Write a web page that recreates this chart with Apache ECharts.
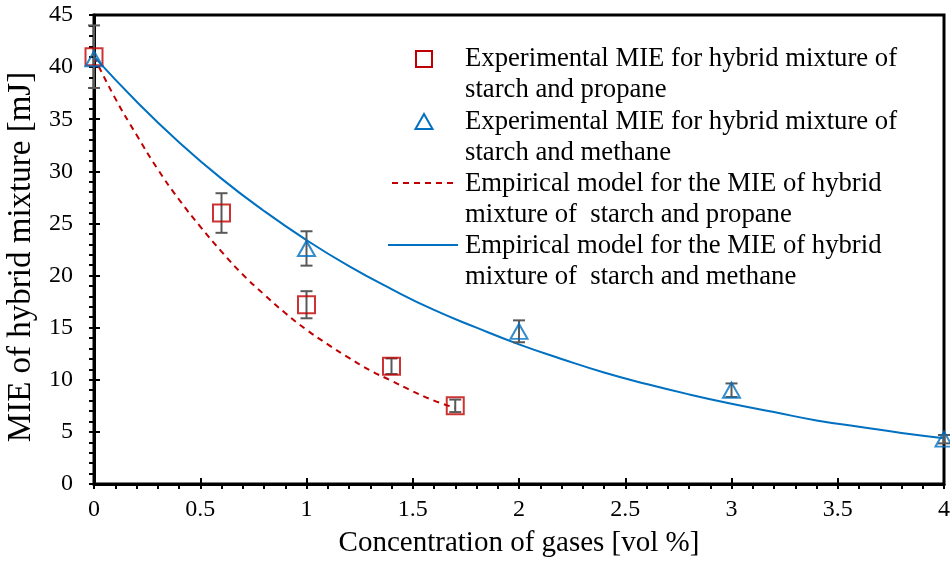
<!DOCTYPE html>
<html>
<head>
<meta charset="utf-8">
<script src="https://cdn.jsdelivr.net/npm/echarts@6/dist/echarts.min.js"></script>
<style>
  html, body { margin: 0; padding: 0; background: #fff; }
  #chart { width: 950px; height: 564px; }
</style>
</head>
<body>
<div id="chart"></div>
<script>
// experimental points
var propaneX = [0, 0.6, 1, 1.4, 1.7];
var propaneY = [41, 26, 17.2, 11.3, 7.5];
var propaneErr = [3, 1.9, 1.3, 0.75, 0.6];

var methaneX = [0, 1, 2, 3, 4];
var methaneY = [40.8, 22.6, 14.65, 9.0, 4.3];
var methaneErr = [0, 1.65, 1.05, 0.65, 0.4];

// empirical model curves
var propaneModelX = [0, 0.1, 0.2, 0.3, 0.4, 0.5, 0.6, 0.7, 0.8, 0.9, 1.0, 1.1, 1.2, 1.3, 1.4, 1.5, 1.6, 1.7];
var propaneModelY = [41.0, 37.0, 33.5, 30.2, 27.3, 24.7, 22.3, 20.1, 18.2, 16.4, 14.8, 13.4, 12.1, 10.9, 9.9, 8.9, 8.0, 7.3];

var methaneModelX = [0, 0.2, 0.4, 0.6, 0.8, 1.0, 1.2, 1.4, 1.6, 1.8, 2.0, 2.2, 2.4, 2.6, 2.8, 3.0, 3.2, 3.4, 3.6, 3.8, 4.0];
var methaneModelY = [41.0, 36.7, 32.8, 29.3, 26.2, 23.4, 20.9, 18.7, 16.7, 15.0, 13.4, 12.0, 10.7, 9.6, 8.6, 7.7, 6.9, 6.1, 5.5, 4.9, 4.4];

var legendLines = [
  ['Experimental MIE for hybrid mixture of', 'starch and propane'],
  ['Experimental MIE for hybrid mixture of', 'starch and methane'],
  ['Empirical model for the MIE of hybrid', 'mixture of  starch and propane'],
  ['Empirical model for the MIE of hybrid', 'mixture of  starch and methane']
];

var red = '#C00000';
var blue = '#0070C0';
var font = '"Liberation Serif", "Times New Roman", serif';

function pairs(xs, ys) {
  var out = [];
  for (var i = 0; i < xs.length; i++) out.push([xs[i], ys[i]]);
  return out;
}
function errData(xs, ys, es) {
  var out = [];
  for (var i = 0; i < xs.length; i++) {
    if (es[i] > 0) out.push([xs[i], ys[i], ys[i] - es[i], ys[i] + es[i]]);
  }
  return out;
}
function renderErr(params, api) {
  var x = api.value(0);
  var lo = api.coord([x, api.value(2)]);
  var hi = api.coord([x, api.value(3)]);
  var w = 6;
  var st = { stroke: '#595959', lineWidth: 2 };
  return {
    type: 'group',
    children: [
      { type: 'line', shape: { x1: lo[0], y1: lo[1], x2: hi[0], y2: hi[1] }, style: st },
      { type: 'line', shape: { x1: lo[0] - w, y1: lo[1], x2: lo[0] + w, y2: lo[1] }, style: st },
      { type: 'line', shape: { x1: hi[0] - w, y1: hi[1], x2: hi[0] + w, y2: hi[1] }, style: st }
    ]
  };
}

// legend drawn by hand so the marker sits on the first text line
var legendGraphic = [];
var legTop = [59, 122, 184, 246];
for (var i = 0; i < 4; i++) {
  var y = legTop[i];
  legendGraphic.push({
    type: 'text', left: 465, top: y - 15.5,
    style: { text: legendLines[i][0] + '\n' + legendLines[i][1], font: '26.7px ' + font, fill: '#000', lineHeight: 31 }
  });
}
legendGraphic.push({ type: 'rect', shape: { x: 416, y: 51, width: 16, height: 16 }, style: { fill: 'none', stroke: red, lineWidth: 2 } });
legendGraphic.push({ type: 'polygon', shape: { points: [[424, 114], [415.5, 129], [432.5, 129]] }, style: { fill: 'none', stroke: blue, lineWidth: 2 } });
legendGraphic.push({ type: 'line', shape: { x1: 392, y1: 183, x2: 454, y2: 183 }, style: { stroke: red, lineWidth: 2, lineDash: [6, 5] } });
legendGraphic.push({ type: 'line', shape: { x1: 388, y1: 245, x2: 458, y2: 245 }, style: { stroke: blue, lineWidth: 2 } });

var myChart = echarts.init(document.getElementById('chart'));
var option = {
  animation: false,
  backgroundColor: '#fff',
  grid: {
    left: 94, right: 6, top: 15, bottom: 80, outerBoundsMode: 'none', containLabel: false,
    show: true, borderColor: '#000', borderWidth: 3
  },
  xAxis: [
    {
      type: 'value', min: 0, max: 4, interval: 0.5, position: 'bottom',
      name: 'Concentration of gases [vol %]', nameLocation: 'middle', nameGap: 45,
      nameTextStyle: { fontFamily: font, fontSize: 29, color: '#000' },
      axisLine: { lineStyle: { color: '#000', width: 3 } },
      axisTick: { inside: false, length: 5, lineStyle: { color: '#000', width: 2 } },
      minorTick: { show: true, splitNumber: 5, length: 5, lineStyle: { color: '#000', width: 2 } },
      axisLabel: { fontFamily: font, fontSize: 24, color: '#000', margin: 14, formatter: function (v) { return String(v); } },
      splitLine: { show: false }
    },
    {
      type: 'value', min: 0, max: 4, interval: 0.5, position: 'bottom',
      axisLine: { show: false },
      axisTick: { inside: true, length: 6, lineStyle: { color: '#000', width: 2 } },
      axisLabel: { show: false },
      splitLine: { show: false }
    }
  ],
  yAxis: [
    {
      type: 'value', min: 0, max: 45, interval: 5, position: 'left',
      name: 'MIE of hybrid mixture [mJ]', nameLocation: 'middle', nameGap: 53,
      nameTextStyle: { fontFamily: font, fontSize: 33, color: '#000', padding: [0, 15, 0, 0] },
      axisLine: { lineStyle: { color: '#000', width: 3 } },
      axisTick: { inside: false, length: 5, lineStyle: { color: '#000', width: 2 } },
      minorTick: { show: true, splitNumber: 5, length: 5, lineStyle: { color: '#000', width: 2 } },
      axisLabel: { fontFamily: font, fontSize: 24, color: '#000', margin: 21 },
      splitLine: { show: false }
    },
    {
      type: 'value', min: 0, max: 45, interval: 5, position: 'left',
      axisLine: { show: false },
      axisTick: { inside: true, length: 6, lineStyle: { color: '#000', width: 2 } },
      axisLabel: { show: false },
      splitLine: { show: false }
    }
  ],
  series: [
    {
      name: 'Empirical model for the MIE of hybrid mixture of  starch and propane',
      type: 'line', smooth: true, showSymbol: false,
      data: pairs(propaneModelX, propaneModelY),
      lineStyle: { color: red, width: 2, type: [6, 5] }, z: 2
    },
    {
      name: 'Empirical model for the MIE of hybrid mixture of  starch and methane',
      type: 'line', smooth: true, showSymbol: false,
      data: pairs(methaneModelX, methaneModelY),
      lineStyle: { color: blue, width: 2 }, z: 2
    },
    {
      type: 'custom', renderItem: renderErr, data: errData(propaneX, propaneY, propaneErr),
      encode: { x: 0, y: [2, 3] }, z: 3
    },
    {
      type: 'custom', renderItem: renderErr, data: errData(methaneX, methaneY, methaneErr),
      encode: { x: 0, y: [2, 3] }, z: 3
    },
    {
      name: 'Experimental MIE for hybrid mixture of starch and propane',
      type: 'scatter', symbol: 'rect', symbolSize: 17,
      data: pairs(propaneX, propaneY),
      itemStyle: { color: 'none', borderColor: red, borderWidth: 2 }, z: 4
    },
    {
      name: 'Experimental MIE for hybrid mixture of starch and methane',
      type: 'scatter', symbol: 'triangle', symbolSize: [17, 15],
      data: pairs(methaneX, methaneY),
      itemStyle: { color: 'none', borderColor: blue, borderWidth: 2 }, z: 4
    }
  ],
  graphic: legendGraphic
};
myChart.setOption(option);
</script>
</body>
</html>
